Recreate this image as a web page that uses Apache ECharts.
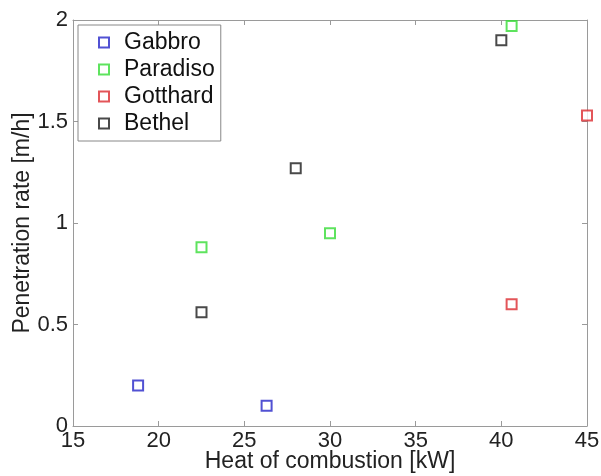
<!DOCTYPE html>
<html>
<head>
<meta charset="utf-8">
<script src="https://cdn.jsdelivr.net/npm/echarts@6/dist/echarts.min.js"></script>
<style>html,body{margin:0;padding:0;background:#fff}#c{width:601px;height:476px}</style>
</head>
<body>
<div id="c"></div>
<script>
const seriesNames = ['Gabbro', 'Paradiso', 'Gotthard', 'Bethel'];
const seriesColors = ['#2626c8', '#36dc36', '#dc2a30', '#1c1c1c'];
const gabbro = [[18.8, 0.20], [26.3, 0.10]];
const paradiso = [[22.5, 0.88], [30.0, 0.95], [40.6, 1.97]];
const gotthard = [[40.6, 0.60], [45.0, 1.53]];
const bethel = [[22.5, 0.56], [28.0, 1.27], [40.0, 1.90]];
const seriesData = [gabbro, paradiso, gotthard, bethel];
const xTitle = 'Heat of combustion [kW]';
const yTitle = 'Penetration rate [m/h]';

const font = 'Liberation Sans, Arial, sans-serif';
const axisGray = '#9a9a9a';

const chart = echarts.init(document.getElementById('c'), null, {renderer: 'canvas'});
const baseAxis = {
  axisLine: {show: true, onZero: false, lineStyle: {color: axisGray, width: 1}},
  axisTick: {show: true, inside: true, length: 5, lineStyle: {color: axisGray}},
  splitLine: {show: false}
};
chart.setOption({
  animation: false,
  backgroundColor: '#fff',
  grid: {left: 73, right: 14, top: 20, bottom: 50, containLabel: false, outerBoundsMode: 'none'},
  legend: {
    orient: 'vertical', left: 78, top: 25,
    data: seriesNames,
    itemWidth: 10, itemHeight: 10, itemGap: 0,
    padding: [4, 6, 4, 20],
    borderColor: '#888', borderWidth: 1, backgroundColor: '#fff',
    textStyle: {fontFamily: font, fontSize: 23, lineHeight: 27, color: '#111', padding: [0, 0, 0, 10]}
  },
  xAxis: [
    Object.assign({}, baseAxis, {
      type: 'value', min: 15, max: 45, interval: 5, position: 'bottom',
      name: xTitle, nameLocation: 'middle', nameGap: 24, nameMoveOverlap: false,
      nameTextStyle: {fontFamily: font, fontSize: 23, color: '#222'},
      axisLabel: {fontFamily: font, fontSize: 22, color: '#222', margin: 4}
    }),
    Object.assign({}, baseAxis, {
      type: 'value', min: 15, max: 45, interval: 5, position: 'top',
      axisLabel: {show: false}
    })
  ],
  yAxis: [
    Object.assign({}, baseAxis, {
      type: 'value', min: 0, max: 2, interval: 0.5, position: 'left',
      name: yTitle, nameLocation: 'middle', nameGap: 39, nameMoveOverlap: false,
      nameTextStyle: {fontFamily: font, fontSize: 23, color: '#222'},
      axisLabel: {fontFamily: font, fontSize: 22, color: '#222', margin: 5, formatter: v => String(v)}
    }),
    Object.assign({}, baseAxis, {
      type: 'value', min: 0, max: 2, interval: 0.5, position: 'right',
      axisLabel: {show: false}
    })
  ],
  series: seriesNames.map((n, i) => ({
    name: n, type: 'scatter', data: seriesData[i],
    symbol: 'rect', symbolSize: 10,
    clip: false,
    itemStyle: {color: '#fff', borderColor: seriesColors[i], borderWidth: 2}
  }))
});
</script>
</body>
</html>
